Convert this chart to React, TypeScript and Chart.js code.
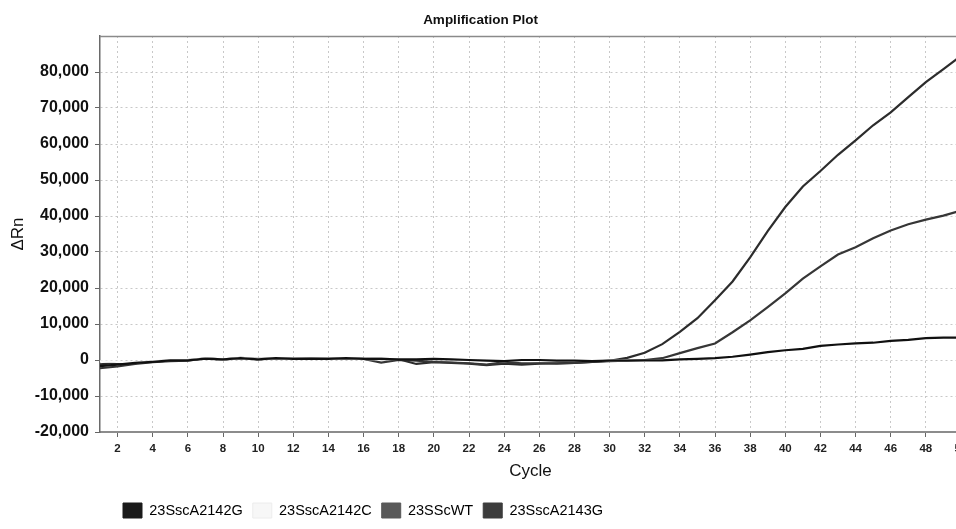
import { useEffect, useRef } from 'react';
import { Chart, registerables } from 'chart.js';

Chart.register(...registerables);

const chartTitle = 'Amplification Plot';
const xTitle = 'Cycle';
const yTitle = 'ΔRn';

const cycles = [
  1, 2, 3, 4, 5, 6, 7, 8, 9, 10, 11, 12, 13, 14, 15, 16, 17, 18, 19, 20, 21, 22, 23, 24, 25,
  26, 27, 28, 29, 30, 31, 32, 33, 34, 35, 36, 37, 38, 39, 40, 41, 42, 43, 44, 45, 46, 47, 48, 49, 50,
];

const seriesNames = ['23SscA2142G', '23SscA2142C', '23SScWT', '23SscA2143G'];

const a2142G = [
  -1700, -1300, -800, -500, -100, -100, 400, 200, 500, 200, 500, 300, 400, 300, 500, 300, 300, 200, 200, 300,
  200, 0, -200, -300, 0, 0, -200, -200, -300, -200, -200, -100, -100, 200, 300, 500, 900, 1500, 2200, 2700,
  3100, 3900, 4300, 4600, 4800, 5300, 5600, 6100, 6200, 6200,
];

const a2142C = [
  -400, -500, -700, -300, 0, 0, 500, 200, 600, 300, 500, 300, 400, 300, 500, 300, 200, 300, 300, 400,
  200, 100, -100, -300, 0, 100, -100, -200, -200, -200, -200, -200, 0, 200, 300, 500, 800, 1600, 2300, 2800,
  3200, 3900, 4300, 4600, 4900, 5300, 5800, 6400, 6700, 6900,
];

const wtValues = [
  -2300, -1800, -1100, -600, -300, -200, 500, 100, 600, 300, 400, 300, 300, 300, 400, 300, -700, 0, -200, -550,
  -700, -900, -1300, -600, -900, -900, -1000, -800, -500, -300, -200, 0, 500, 1900, 3300, 4600, 7700, 11000, 14700, 18500,
  22600, 26000, 29300, 31300, 33800, 36000, 37700, 39000, 40100, 41500,
];

const a2143G = [
  -1200, -800, -900, -400, -200, 0, 400, 200, 500, 200, 500, 300, 400, 300, 500, 300, 300, 200, -1100, -600,
  -800, -1000, -1400, -1000, -1300, -1000, -900, -800, -500, -200, 600, 2000, 4400, 7800, 11600, 16600, 21800, 28500, 35800, 42500,
  48200, 52500, 57000, 61000, 65200, 68800, 73000, 77200, 80800, 84500,
];

const seriesValues = [a2142G, a2142C, wtValues, a2143G];
const lineColors = ['#101010', '#fbfbfb', '#363636', '#2c2c2c'];
const boxColors = ['#1a1a1a', '#f7f7f7', '#595959', '#3c3c3c'];
const boxBorders = ['#1a1a1a', '#ececec', '#595959', '#3c3c3c'];

const FONT = '"Liberation Sans", Arial, Helvetica, sans-serif';

const framePlugin = {
  id: 'frameTop',
  afterDatasetsDraw(chart: any) {
    const { ctx, chartArea } = chart;
    ctx.save();
    ctx.strokeStyle = '#8a8a8a';
    ctx.lineWidth = 1.5;
    ctx.beginPath();
    ctx.moveTo(chartArea.left, chartArea.top + 0.5);
    ctx.lineTo(chartArea.right, chartArea.top + 0.5);
    ctx.stroke();
    ctx.restore();
  },
};

const legendShiftPlugin = {
  id: 'legendShift',
  afterLayout(chart: any) {
    const lg = chart.legend;
    if (lg) {
      const shift = 113;
      lg.left = shift;
      lg.right = shift + lg.width;
    }
  },
};

export default function App() {
  const ref = useRef<HTMLCanvasElement | null>(null);

  useEffect(() => {
    if (!ref.current) return;
    const chart = new Chart(ref.current, {
      type: 'line',
      data: {
        datasets: seriesNames.map((name, i) => ({
          label: name,
          data: cycles.map((c, j) => ({ x: c, y: seriesValues[i][j] })),
          borderColor: lineColors[i],
          backgroundColor: boxColors[i],
          borderWidth: 2.2,
          pointRadius: 0,
          tension: 0,
          fill: false,
        })),
      },
      plugins: [framePlugin, legendShiftPlugin],
      options: {
        animation: false,
        responsive: false,
        devicePixelRatio: 1,
        layout: { padding: { left: 0, top: 0, right: 14, bottom: 1 } },
        plugins: {
          tooltip: { enabled: false },
          title: {
            display: true,
            text: chartTitle,
            color: '#111',
            font: { family: FONT, size: 13.5, weight: 'bold' },
            padding: { top: 12, bottom: 7.8 },
          },
          legend: {
            position: 'bottom',
            align: 'start',
            labels: {
              color: '#111',
              font: { family: FONT, size: 14.5 },
              boxWidth: 19,
              boxHeight: 15,
              padding: 10,
              generateLabels: (chart: any) =>
                chart.data.datasets.map((ds: any, i: number) => ({
                  text: ds.label,
                  fillStyle: boxColors[i],
                  strokeStyle: boxBorders[i],
                  lineWidth: 1,
                  hidden: false,
                  datasetIndex: i,
                })),
            },
          },
        },
        scales: {
          x: {
            type: 'linear',
            min: 1,
            max: 50,
            ticks: {
              stepSize: 2,
              color: '#222',
              font: { family: FONT, size: 11.5, weight: 'bold' },
              padding: 5,
              maxRotation: 0,
              autoSkip: false,
              callback: (v: any) => String(v),
            },
            afterBuildTicks: (scale: any) => {
              scale.ticks = scale.ticks.filter((t: any) => t.value % 2 === 0);
            },
            afterFit: (scale: any) => {
              scale.height = 61;
            },
            grid: {
              color: '#c8c8c8',
              lineWidth: 1,
              tickLength: 5,
              tickColor: '#666',
              tickWidth: 1,
              tickBorderDash: [],
            },
            border: { display: true, color: '#8c8c8c', width: 2, dash: [2, 3] },
            title: {
              display: true,
              text: xTitle,
              color: '#111',
              font: { family: FONT, size: 17 },
              padding: { top: 4, bottom: 11 },
            },
          },
          y: {
            type: 'linear',
            min: -20000,
            max: 90000,
            ticks: {
              stepSize: 10000,
              color: '#111',
              font: { family: FONT, size: 16, weight: 'bold' },
              padding: 6,
              autoSkip: false,
              callback: (v: any) => Number(v).toLocaleString('en-US'),
            },
            afterBuildTicks: (scale: any) => {
              scale.ticks = scale.ticks.filter((t: any) => t.value < 90000);
            },
            afterFit: (scale: any) => {
              scale.width = 100;
            },
            grid: {
              color: '#c8c8c8',
              lineWidth: 1,
              tickLength: 5,
              tickColor: '#666',
              tickWidth: 1,
              tickBorderDash: [],
            },
            border: { display: true, color: '#6a6a6a', width: 1.5, dash: [2, 3] },
            title: {
              display: true,
              text: yTitle,
              color: '#111',
              font: { family: FONT, size: 17 },
              padding: { top: 8, bottom: 4 },
            },
          },
        },
      },
    } as any);
    return () => chart.destroy();
  }, []);

  return (
    <div
      style={{
        position: 'fixed',
        left: 0,
        top: 0,
        width: 956,
        height: 529,
        overflow: 'hidden',
        background: '#fff',
      }}
    >
      <canvas ref={ref} width={975} height={529} style={{ width: 975, height: 529, display: 'block' }} />
    </div>
  );
}
